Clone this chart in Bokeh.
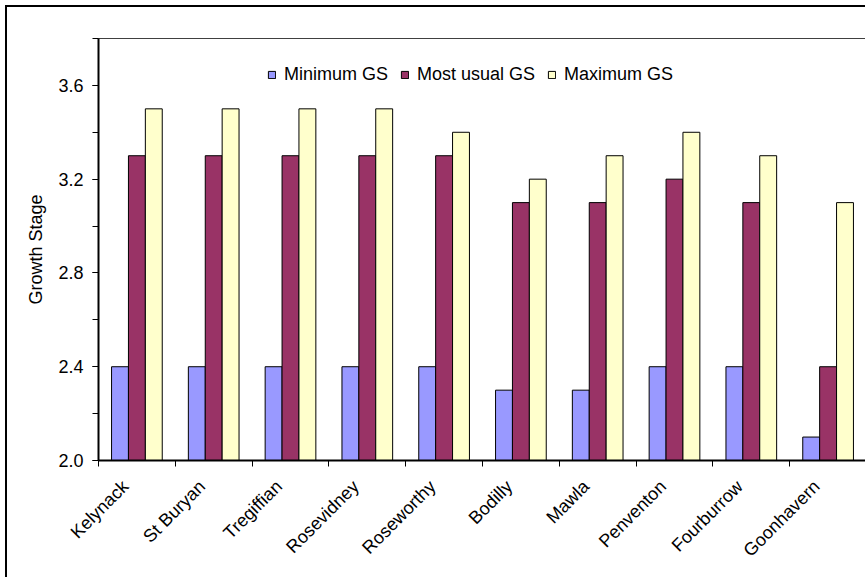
from bokeh.plotting import figure
from bokeh.models import (ColumnDataSource, FixedTicker, PrintfTickFormatter,
                          Legend, LegendItem, Range1d)
from bokeh.transform import dodge
from bokeh.embed import file_html
from bokeh.resources import INLINE
import math

# Growth stage survey by site
sites = ["Kelynack", "St Buryan", "Tregiffian", "Rosevidney", "Roseworthy",
         "Bodilly", "Mawla", "Penventon", "Fourburrow", "Goonhavern"]
minimum_gs = [2.4, 2.4, 2.4, 2.4, 2.4, 2.3, 2.3, 2.4, 2.4, 2.1]
most_usual_gs = [3.3, 3.3, 3.3, 3.3, 3.3, 3.1, 3.1, 3.2, 3.1, 2.4]
maximum_gs = [3.5, 3.5, 3.5, 3.5, 3.4, 3.2, 3.3, 3.4, 3.3, 3.1]
series_names = ["Minimum GS", "Most usual GS", "Maximum GS"]
y_ticks = [2.0, 2.4, 2.8, 3.2, 3.6]
y_minor = [2.0, 2.2, 2.4, 2.6, 2.8, 3.0, 3.2, 3.4, 3.6, 3.8]

FONT = "Liberation Sans"
FS = "18px"
BASE = 2.0
colors = ["#9999FF", "#993366", "#FFFFCC"]

centers = [i + 0.5 for i in range(len(sites))]
source = ColumnDataSource(dict(x=centers, mn=minimum_gs, mu=most_usual_gs, mx=maximum_gs))

p = figure(width=860, height=572, output_backend="svg", toolbar_location=None,
           x_range=Range1d(0, len(sites)), y_range=Range1d(2.0, 3.8),
           min_border_left=91, min_border_top=31, min_border_right=1,
           min_border_bottom=119)
# black frame round the whole chart area
p.styles = {"margin-left": "5px", "margin-top": "5px",
            "border-left": "2px solid black", "border-top": "2px solid black"}
p.background_fill_color = "white"
p.border_fill_color = "white"
p.grid.visible = False
p.outline_line_color = "#404040"
p.outline_line_width = 1

width = 0.22
renderers = []
for field, off, col in zip(["mn", "mu", "mx"], [-width, 0.0, width], colors):
    r = p.vbar(x=dodge("x", off), top=field, bottom=BASE, width=width, source=source,
               fill_color=col, line_color="black", line_width=1)
    renderers.append(r)

# x axis: boundaries get tick marks; slanted site names end just left of each centre
label_shift = 0.15
label_pos = [c - label_shift for c in centers]
xa = p.xaxis[0]
xa.ticker = FixedTicker(ticks=label_pos, minor_ticks=list(range(len(sites) + 1)))
xa.major_label_overrides = {c: s for c, s in zip(label_pos, sites)}
xa.major_tick_out = 0
xa.major_tick_in = 0
xa.minor_tick_out = 6
xa.minor_tick_in = 0
xa.minor_tick_line_color = "black"
xa.axis_line_color = "black"
xa.axis_line_width = 2
xa.major_label_orientation = math.pi / 4
xa.major_label_text_font = FONT
xa.major_label_text_font_size = FS
xa.major_label_text_color = "black"
xa.major_label_standoff = 17

ya = p.yaxis[0]
ya.ticker = FixedTicker(ticks=y_ticks, minor_ticks=y_minor)
ya.formatter = PrintfTickFormatter(format="%.1f")
ya.major_tick_out = 6
ya.major_tick_in = 0
ya.minor_tick_out = 6
ya.minor_tick_in = 0
ya.minor_tick_line_color = "black"
ya.axis_line_color = "black"
ya.axis_line_width = 2
ya.major_label_text_font = FONT
ya.major_label_text_font_size = FS
ya.major_label_text_color = "black"
ya.major_label_standoff = 9
ya.axis_label = "Growth Stage"
ya.axis_label_text_font = FONT
ya.axis_label_text_font_size = FS
ya.axis_label_text_font_style = "normal"
ya.axis_label_text_color = "black"
ya.axis_label_standoff = 9

legend = Legend(items=[LegendItem(label=n, renderers=[r]) for n, r in zip(series_names, renderers)],
                orientation="horizontal", location=(169, 375))
legend.border_line_alpha = 0
legend.background_fill_alpha = 0
legend.padding = 0
legend.margin = 0
legend.spacing = 12
legend.glyph_width = 9
legend.glyph_height = 9
legend.label_standoff = 8
legend.label_text_font = FONT
legend.label_text_font_size = FS
legend.label_text_color = "black"
p.add_layout(legend)

open("out.html", "w").write(file_html(p, INLINE))
